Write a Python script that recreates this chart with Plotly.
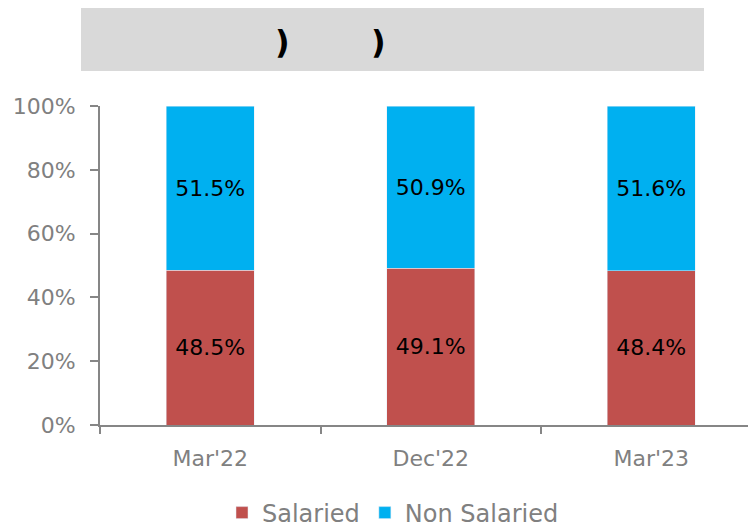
import plotly.graph_objects as go

categories = ["Mar'22", "Dec'22", "Mar'23"]
salaried = [48.5, 49.1, 48.4]
non_salaried = [51.5, 50.9, 51.6]
y_ticks = [0, 20, 40, 60, 80, 100]
y_tick_labels = ["0%", "20%", "40%", "60%", "80%", "100%"]

FONT = "'DejaVu Sans', sans-serif"
GREY = "#808080"

fig = go.Figure()
fig.add_trace(go.Bar(
    x=categories, y=salaried, name="Salaried", marker_color="#C0504D",
    text=[f"{v:.1f}%" for v in salaried], textposition="inside",
    insidetextanchor="middle", textfont=dict(color="black", size=22, family=FONT),
    width=0.4,
))
fig.add_trace(go.Bar(
    x=categories, y=non_salaried, name="Non Salaried", marker_color="#00B0F0",
    text=[f"{v:.1f}%" for v in non_salaried], textposition="inside",
    insidetextanchor="middle", textfont=dict(color="black", size=22, family=FONT),
    width=0.4,
))

# page has an 8px body margin: figure is shifted by (8, 8)
OFF = 8
W, H = 756 - OFF, 528 - OFF
L, R, T = 100 - OFF, 0, 106 - OFF
B = H - (425 - OFF)
pw, ph = W - L - R, H - T - B

def px(x):
    return (x - OFF - L) / pw

def py(y):
    return (H - B - (y - OFF)) / ph

fig.add_shape(type="rect", xref="paper", yref="paper",
              x0=px(81), x1=px(704), y0=py(71), y1=py(7),
              fillcolor="#D9D9D9", line=dict(width=0), layer="below")
for xx in [282, 378]:
    fig.add_annotation(xref="paper", yref="paper", x=px(xx), y=py(42),
                       yanchor="middle", xanchor="center", text="<b>)</b>", showarrow=False,
                       font=dict(size=32, color="black", family=FONT))

fig.update_layout(
    width=W, height=H,
    margin=dict(l=L, r=R, t=T, b=B, autoexpand=False),
    barmode="stack",
    plot_bgcolor="white", paper_bgcolor="white",
    font=dict(family=FONT, color=GREY, size=22),
    uniformtext=dict(minsize=8, mode="show"),
    legend=dict(orientation="h", x=px(393), xanchor="center", y=py(513), yanchor="middle",
                font=dict(size=24, color=GREY, family=FONT), traceorder="normal",
                itemwidth=30),
    showlegend=True,
)
fig.update_xaxes(
    range=[-0.5, 2.475], showline=True, linecolor="#868686", linewidth=2,
    ticks="outside", tickson="boundaries", ticklen=7, tickcolor="#868686", tickwidth=2,
    tickfont=dict(size=22, color=GREY, family=FONT), showgrid=False, automargin=False,
    ticklabelstandoff=13,
)
fig.update_yaxes(
    range=[0, 100], tickvals=y_ticks, ticktext=y_tick_labels,
    showline=True, linecolor="#868686", linewidth=2,
    ticks="outside", ticklen=8, tickcolor="#868686", tickwidth=2,
    tickfont=dict(size=22, color=GREY, family=FONT), showgrid=False, zeroline=False,
    automargin=False, ticklabelstandoff=10,
)

fig.write_html("out.html")
